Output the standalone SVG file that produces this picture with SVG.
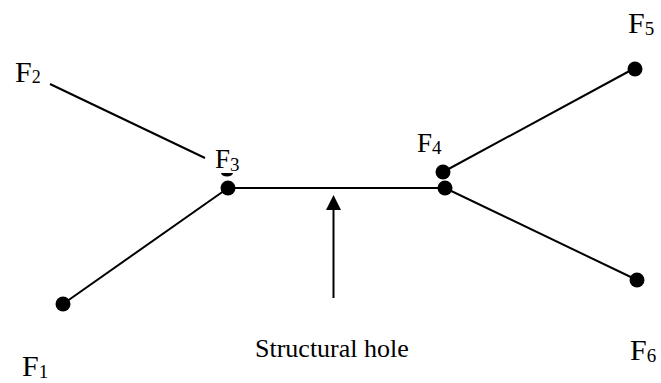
<svg xmlns="http://www.w3.org/2000/svg" width="661" height="383" viewBox="0 0 661 383">
<style>
  .lbl { font-family: "Liberation Serif", "Times New Roman", serif; fill: #000; }
  .edge { stroke: #000; stroke-width: 2; fill: none; }
  .dot { fill: #000; }
</style>
<rect width="661" height="383" fill="#fff"/>
<g id="connectors">
  <line class="edge" x1="50" y1="84" x2="205" y2="158"/>
  <line class="edge" x1="63" y1="304" x2="228" y2="188"/>
  <line class="edge" x1="228" y1="188" x2="445" y2="188"/>
  <line class="edge" x1="443" y1="172" x2="635" y2="68"/>
  <line class="edge" x1="445" y1="188" x2="637" y2="280"/>
  <line class="edge" x1="333.5" y1="298" x2="333.5" y2="210"/>
  <path d="M326,210 L341,210 L333.5,195 z" fill="#000"/>
</g>
<g id="F1">
  <circle class="dot" cx="63" cy="304" r="7.5"/>
  <text class="lbl" x="22" y="376" font-size="30">F<tspan font-size="19" dy="2">1</tspan></text>
</g>
<g id="F2">
  <text class="lbl" x="15" y="82" font-size="30">F<tspan font-size="18" dy="1">2</tspan></text>
</g>
<g id="F3">
  <path d="M221,173 h12 a6,3.5 0 0 1 -12,0 z" fill="#000"/>
  <circle class="dot" cx="228" cy="188" r="7.5"/>
  <text class="lbl" x="215" y="168" font-size="27">F<tspan font-size="19" dy="3">3</tspan></text>
</g>
<g id="F4">
  <circle class="dot" cx="443" cy="172" r="7.5"/>
  <circle class="dot" cx="445" cy="188" r="7.5"/>
  <text class="lbl" x="417" y="152" font-size="27">F<tspan font-size="19" dy="2">4</tspan></text>
</g>
<g id="F5">
  <circle class="dot" cx="635" cy="69" r="7.5"/>
  <text class="lbl" x="628" y="33" font-size="30">F<tspan font-size="19" dy="2">5</tspan></text>
</g>
<g id="F6">
  <circle class="dot" cx="637" cy="280" r="7.5"/>
  <text class="lbl" x="630" y="360" font-size="30">F<tspan font-size="19" dy="2">6</tspan></text>
</g>
<g id="label-hole">
  <text class="lbl" x="255" y="356.5" font-size="26">Structural hole</text>
</g>
</svg>
